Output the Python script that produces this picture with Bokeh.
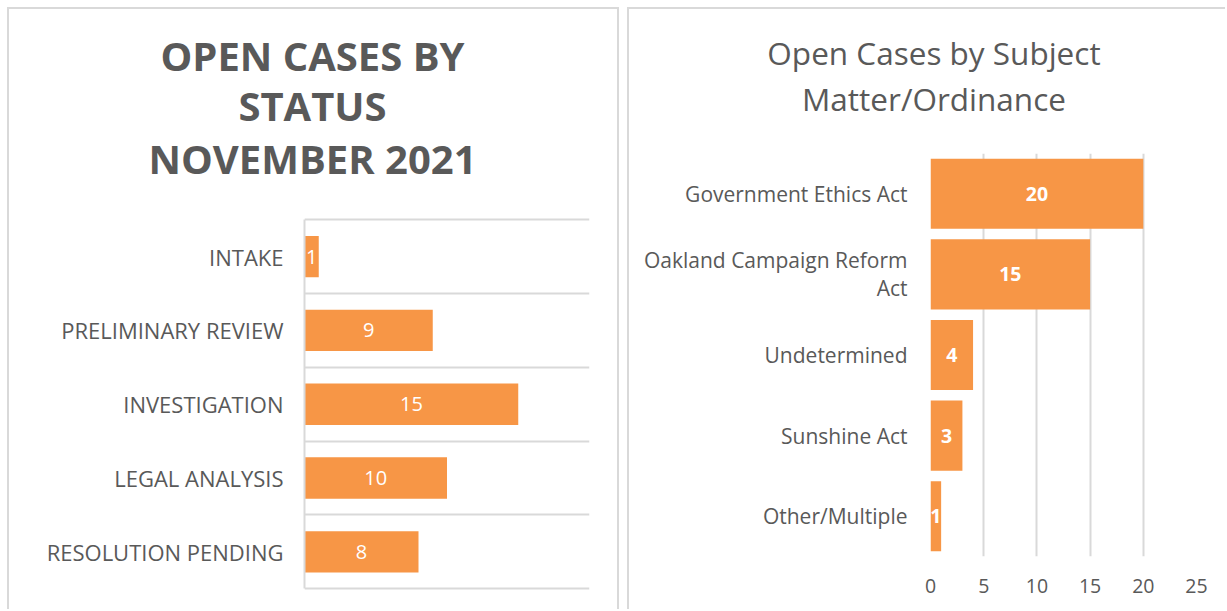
from bokeh.plotting import figure
from bokeh.models import Range1d, FixedTicker, ColumnDataSource
from bokeh.embed import file_html
from bokeh.resources import INLINE
from bokeh.core.properties import value

# ---- data ----
status_categories = ["INTAKE", "PRELIMINARY REVIEW", "INVESTIGATION", "LEGAL ANALYSIS", "RESOLUTION PENDING"]
status_counts = [1, 9, 15, 10, 8]

subject_categories = ["Government Ethics Act", "Oakland Campaign Reform Act", "Undetermined", "Sunshine Act", "Other/Multiple"]
subject_axis_labels = ["Government Ethics Act", "Oakland Campaign Reform\nAct", "Undetermined", "Sunshine Act", "Other/Multiple"]
subject_counts = [20, 15, 4, 3, 1]
subject_ticks = [0, 5, 10, 15, 20, 25]

left_title_lines = ["OPEN CASES BY", "STATUS", "NOVEMBER 2021"]
right_title_lines = ["Open Cases by Subject", "Matter/Ordinance"]

# ---- styles ----
ORANGE = "#F79646"
GRAY = "#595959"
GRID = "#D9D9D9"
FONT = "Open Sans"
BORDER = "2px solid " + GRID


def title_fig(lines, xs, ys, w, h, left_px, top_px, size, style):
    t = figure(width=w, height=h, x_range=Range1d(0, w), y_range=Range1d(h, 0),
               x_axis_type=None, y_axis_type=None, toolbar_location=None, output_backend="svg",
               min_border=0, background_fill_color=None, border_fill_color=None)
    t.outline_line_color = None
    t.grid.visible = False
    src = ColumnDataSource(dict(x=xs, y=ys, text=lines))
    t.text(x="x", y="y", text="text", source=src, text_align="center", text_baseline="middle",
           text_color=GRAY, text_font=value(FONT), text_font_size=size, text_font_style=style)
    t.styles = {"position": "absolute", "left": f"{left_px}px", "top": f"{top_px}px"}
    return t


# ---------------- left chart ----------------
n1 = len(status_categories)
pos1 = list(range(1, n1 + 1))
src1 = ColumnDataSource(dict(y=pos1, v=status_counts, mid=[c / 2 for c in status_counts],
                             lab=[str(c) for c in status_counts]))

# frame extends a little below the last separator so that it is drawn inside the frame
left = figure(width=612, height=602, x_range=Range1d(0, 20),
              y_range=Range1d(n1 + 0.7, 0.47),
              toolbar_location=None, output_backend="svg",
              min_border_left=295, min_border_right=32, min_border_top=208, min_border_bottom=8)
left.outline_line_color = None
left.xgrid.visible = False
left.ygrid.visible = False
# category separator lines
left.hspan(y=[p - 0.5 for p in pos1] + [n1 + 0.5], line_color=GRID, line_width=2)
left.hbar(y="y", right="v", left=0, height=0.56, source=src1, fill_color=ORANGE, line_color=None)
left.text(x="mid", y="y", text="lab", source=src1, text_align="center", text_baseline="middle",
          text_color="white", text_font=value(FONT), text_font_size="20px")

left.xaxis.visible = False

ya = left.yaxis[0]
ya.ticker = FixedTicker(ticks=pos1)
ya.bounds = (0.5, n1 + 0.5)
ya.major_label_overrides = {p: c for p, c in zip(pos1, status_categories)}
ya.major_tick_line_color = None
ya.major_tick_out = 0
ya.major_tick_in = 0
ya.minor_tick_line_color = None
ya.axis_line_color = GRID
ya.axis_line_width = 2
ya.major_label_standoff = 21
ya.major_label_text_font = FONT
ya.major_label_text_font_size = "22px"
ya.major_label_text_color = GRAY

left.styles = {"position": "absolute", "left": "7px", "top": "7px",
               "border-top": BORDER, "border-left": BORDER, "border-right": BORDER}

left_title = title_fig(left_title_lines, [303, 303, 303], [46, 95.5, 149], 608, 190, 9, 9, "40px", "bold")

# ---------------- right chart ----------------
n2 = len(subject_categories)
pos2 = list(range(1, n2 + 1))
src2 = ColumnDataSource(dict(y=pos2, v=subject_counts, mid=[c / 2 for c in subject_counts],
                             lab=[str(c) for c in subject_counts]))

right = figure(width=598, height=602, x_range=Range1d(subject_ticks[0], subject_ticks[-1]),
               y_range=Range1d(n2 + 0.5, 0.5),
               toolbar_location=None, output_backend="svg",
               min_border_left=301, min_border_right=31, min_border_top=144, min_border_bottom=55)
right.outline_line_color = None
right.xgrid.ticker = FixedTicker(ticks=subject_ticks)
right.xgrid.grid_line_color = GRID
right.xgrid.grid_line_width = 2
right.ygrid.visible = False
right.hbar(y="y", right="v", left=0, height=0.87, source=src2, fill_color=ORANGE, line_color=None)
right.text(x="mid", y="y", text="lab", source=src2, text_align="center", text_baseline="middle",
           text_color="white", text_font=value(FONT), text_font_size="19.5px", text_font_style="bold")

xa = right.xaxis[0]
xa.ticker = FixedTicker(ticks=subject_ticks)
xa.axis_line_color = None
xa.major_tick_line_color = None
xa.major_tick_out = 0
xa.major_tick_in = 0
xa.minor_tick_line_color = None
xa.major_label_standoff = 22
xa.major_label_text_font = FONT
xa.major_label_text_font_size = "19.5px"
xa.major_label_text_color = GRAY

yb = right.yaxis[0]
yb.ticker = FixedTicker(ticks=pos2)
yb.major_label_overrides = {p: c for p, c in zip(pos2, subject_axis_labels)}
yb.axis_line_color = None
yb.major_tick_line_color = None
yb.major_tick_out = 0
yb.major_tick_in = 0
yb.minor_tick_line_color = None
yb.major_label_standoff = 23
yb.major_label_text_font = FONT
yb.major_label_text_font_size = "21px"
yb.major_label_text_color = GRAY
yb.major_label_text_line_height = 1.0

right.styles = {"position": "absolute", "left": "627px", "top": "7px",
                "border-top": BORDER, "border-left": BORDER}

right_title = title_fig(right_title_lines, [304.5, 304.5], [43, 88.5], 598, 130, 629, 9, "31.5px", "normal")

open("out.html", "w").write(file_html([left, right, left_title, right_title], INLINE))
